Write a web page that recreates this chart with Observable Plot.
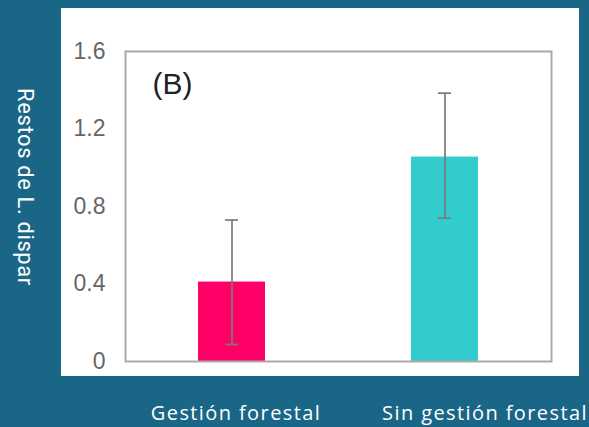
<!DOCTYPE html>
<html>
<head>
<meta charset="utf-8">
<script src="https://cdn.jsdelivr.net/npm/d3@7"></script>
<script src="https://cdn.jsdelivr.net/npm/@observablehq/plot@0.6"></script>
<style>
  html, body { margin: 0; padding: 0; }
  body { width: 589px; height: 427px; background: #1a6687; position: relative; overflow: hidden; }
  #panel { position: absolute; left: 61px; top: 8px; width: 518px; height: 368px; background: #ffffff; }
  #ylabel { position: absolute; left: 25px; top: 187px; transform: translate(-50%, -50%) rotate(90deg); white-space: nowrap;
            color: #fff; font-family: Roboto, sans-serif; font-size: 22px; letter-spacing: 0.6px; line-height: 1; }
  .xlab { position: absolute; top: 413px; transform: translate(-50%, -50%); white-space: nowrap; line-height: 1;
          color: #fff; font-family: 'Open Sans', sans-serif; font-size: 20px; letter-spacing: 1.4px; }
</style>
</head>
<body>
<div id="panel"></div>
<div id="ylabel"></div>
<script>
const categories = ["Gestión forestal", "Sin gestión forestal"];
const means = [0.41, 1.055];
const lower = [0.088, 0.74];
const upper = [0.73, 1.385];
const colors = ["#ff0066", "#33cccc"];
const yTicks = [0, 0.4, 0.8, 1.2, 1.6];
const yTickLabels = ["0", "0.4", "0.8", "1.2", "1.6"];
const panelLabel = "(B)";
const yTitle = "Restos de L. dispar";
const xLabelCenters = [236, 485];

const data = categories.map((c, i) => ({cat: c, mean: means[i], lo: lower[i], hi: upper[i]}));
const fmt = (d) => yTickLabels[yTicks.indexOf(d)];

const chart = Plot.plot({
  width: 518,
  height: 368,
  marginLeft: 64,
  marginRight: 28,
  marginTop: 43,
  marginBottom: 15,
  style: {background: "transparent", fontFamily: "'Liberation Sans', Arial, sans-serif"},
  x: {domain: categories, paddingInner: 0.685, paddingOuter: 0.3425, axis: null},
  y: {domain: [0, 1.6], axis: null},
  color: {domain: categories, range: colors},
  marks: [
    Plot.axisY({ticks: yTicks, tickFormat: fmt, tickSize: 0, tickPadding: 20, label: null, fontSize: 23, fill: "#666"}),
    Plot.barY(data, {x: "cat", y: "mean", fill: "cat"}),
    Plot.ruleX(data, {x: "cat", y1: "lo", y2: "hi", stroke: "#7a7a7a", strokeWidth: 1.7}),
    Plot.tickY(data, {x: "cat", y: "lo", stroke: "#7a7a7a", strokeWidth: 1.7, insetLeft: 27, insetRight: 27}),
    Plot.tickY(data, {x: "cat", y: "hi", stroke: "#7a7a7a", strokeWidth: 1.7, insetLeft: 27, insetRight: 27}),
    Plot.frame({stroke: "#aaaaaa", strokeWidth: 2}),
    Plot.text([panelLabel], {frameAnchor: "top-left", textAnchor: "start", lineAnchor: "middle", dx: 27, dy: 33, fontSize: 30, fill: "#222"})
  ]
});
document.getElementById("panel").appendChild(chart);
document.getElementById("ylabel").textContent = yTitle;
categories.forEach((c, i) => {
  const d = document.createElement("div");
  d.className = "xlab";
  d.style.left = xLabelCenters[i] + "px";
  d.textContent = c;
  document.body.appendChild(d);
});
</script>
</body>
</html>
